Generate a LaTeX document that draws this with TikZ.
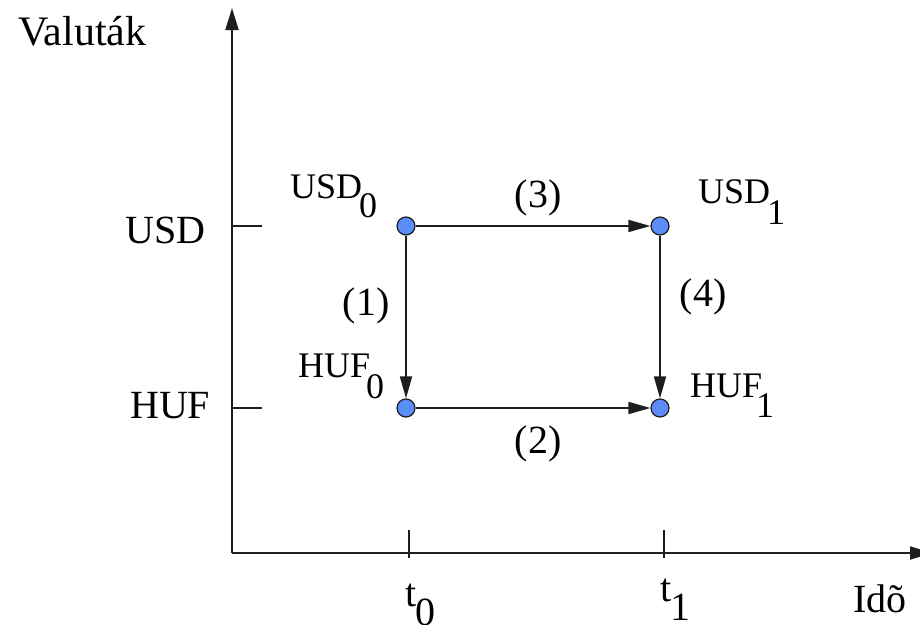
\documentclass[tikz,border=0pt]{standalone}
\usepackage{fontspec}
\setmainfont{Liberation Serif}
\usetikzlibrary{arrows.meta}
\definecolor{dotblue}{RGB}{92,140,248}
\definecolor{linegray}{RGB}{30,30,30}
\begin{document}
\begin{tikzpicture}[x=1pt,y=-1pt,
  axis/.style={draw=linegray,line width=2pt},
  conn/.style={draw=linegray,line width=1.8pt,-{Triangle[length=22pt,width=12pt]}},
  axisarrow/.style={draw=linegray,line width=2pt,-{Triangle[length=22pt,width=13pt]}},
  pt/.style={circle,fill=dotblue,draw=linegray,line width=1.2pt,minimum size=18pt,inner sep=0pt},
  biglbl/.style={anchor=base west,inner sep=0pt,font=\fontsize{40}{40}\selectfont},
  biglblc/.style={anchor=base,inner sep=0pt,font=\fontsize{40}{40}\selectfont},
  ptlbl/.style={anchor=base west,inner sep=0pt,font=\fontsize{36}{36}\selectfont}]
\useasboundingbox (0,0) rectangle (920,624);
% axes
\coordinate (O) at (232,553);
\coordinate (ytop) at (232,8);
\coordinate (xend) at (932,553);
\draw[axisarrow] (O) -- (ytop);
\draw[axisarrow] (O) -- (xend);
% ticks
\coordinate (tuA) at (232,226); \coordinate (tuB) at (262,226);
\coordinate (thA) at (232,408); \coordinate (thB) at (262,408);
\coordinate (t0A) at (409,530); \coordinate (t0B) at (409,558);
\coordinate (t1A) at (664,530); \coordinate (t1B) at (664,558);
\draw[axis] (tuA) -- (tuB);
\draw[axis] (thA) -- (thB);
\draw[axis] (t0A) -- (t0B);
\draw[axis] (t1A) -- (t1B);
% axis labels
\node[biglbl,font=\fontsize{42}{42}\selectfont] (val) at (18,45) {Valuták};
\node[biglbl] (usd) at (125,243) {USD};
\node[biglbl] (huf) at (130,418) {HUF};
\node[biglbl] (t0) at (405,606) {t\kern-1pt\raisebox{-19pt}{0}};
\node[biglbl] (t1) at (660,601) {t\kern-1pt\raisebox{-19pt}{1}};
\node[biglbl] (ido) at (853,612) {Idõ};
% points
\node[pt] (u0) at (406,226) {};
\node[pt] (u1) at (660,226) {};
\node[pt] (h0) at (406,408) {};
\node[pt] (h1) at (660,408) {};
% connectors
\draw[conn] (u0) -- (u1);
\draw[conn] (u0) -- (h0);
\draw[conn] (h0) -- (h1);
\draw[conn] (u1) -- (h1);
% point labels
\node[ptlbl] (lu0) at (290,198) {USD\kern-3pt\raisebox{-19pt}{0}};
\node[ptlbl] (lu1) at (698,203) {USD\kern-3pt\raisebox{-21pt}{1}};
\node[ptlbl] (lh0) at (298,377) {HUF\kern-4pt\raisebox{-21pt}{0}};
\node[ptlbl] (lh1) at (690,397) {HUF\kern-6pt\raisebox{-20pt}{1}};
% edge labels
\node[biglblc] (e1) at (366,315) {(1)};
\node[biglblc] (e3) at (538,207) {(3)};
\node[biglblc] (e2) at (538,453) {(2)};
\node[biglblc] (e4) at (703,306) {(4)};
\end{tikzpicture}
\end{document}
